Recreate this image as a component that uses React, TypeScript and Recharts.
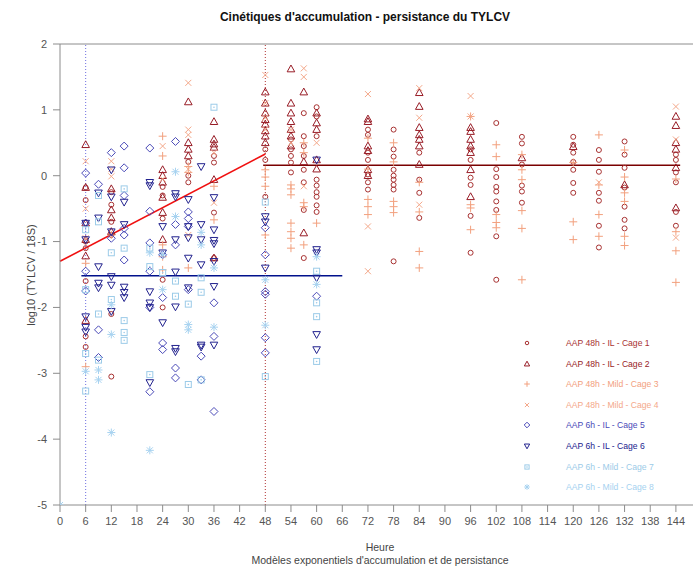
import React from 'react';
import { ScatterChart, Scatter, XAxis, YAxis, ReferenceLine } from 'recharts';

type Pt = [number, number];

// hours / log10 values
const cage1: Pt[] = [
  [6, -0.18], [6, -0.37], [6, -1.0], [6, -1.1], [6, -1.6], [6, -2.44], [6, -2.6],
  [12, -0.25], [12, -0.44], [12, -0.7], [12, -0.9], [12, -2.1], [12, -3.05],
  [24, -0.17], [24, -0.3], [24, -0.65], [24, -1.58], [24, -2.0],
  [30, 0.21], [30, 0.0], [30, -0.1],
  [36, 0.2], [36, 0.3], [36, -0.56], [36, -1.25],
  [48, 0.4], [48, 0.24], [48, -0.32],
  [54, 0.55], [54, 0.4], [54, 0.3], [54, 0.2], [54, 0.05],
  [57, 0.95], [57, 0.6], [57, 0.45], [57, 0.3], [57, 0.09], [57, -0.1], [57, -0.52], [57, -1.25],
  [60, 1.04], [60, 0.9], [60, 0.6], [60, -0.06], [60, -0.15], [60, -0.25], [60, -0.32], [60, -0.45], [60, -0.55],
  [72, 0.7], [72, 0.62], [72, 0.35], [72, 0.24], [72, 0.02], [72, -0.1], [72, -0.21],
  [78, 0.7], [78, 0.4], [78, 0.29], [78, 0.09], [78, 0.0], [78, -0.06], [78, -0.14], [78, -0.21], [78, -1.3],
  [84, 0.35], [84, -0.06], [84, -0.26], [84, -0.64],
  [96, 0.4], [96, 0.24], [96, -0.03], [96, -0.14], [96, -0.61], [96, -1.17],
  [102, 0.8], [102, 0.1], [102, -0.02], [102, -0.17], [102, -0.24], [102, -0.39], [102, -0.52], [102, -0.92], [102, -1.58],
  [108, 0.59], [108, 0.49], [108, 0.17], [108, -0.15], [108, -0.24], [108, -0.41],
  [120, 0.59], [120, 0.47], [120, 0.35], [120, 0.21], [120, 0.09], [120, -0.11], [120, -0.26],
  [126, 0.39], [126, 0.24], [126, 0.06], [126, -0.26], [126, -0.38], [126, -0.76], [126, -1.09],
  [132, 0.52], [132, 0.32], [132, 0.12], [132, -0.18], [132, -0.47], [132, -0.67], [132, -0.8],
  [144, 0.32], [144, 0.24], [144, 0.05], [144, -0.1], [144, -0.55], [144, -0.76],
];
const cage2: Pt[] = [
  [6, 0.47], [6, -0.18], [6, -0.72], [6, -0.97], [6, -1.22], [6, -2.2],
  [12, -0.2], [12, -0.52], [12, -0.64], [12, -0.85],
  [24, 0.09], [24, 0.0], [24, -0.1], [24, -0.33], [24, -0.56], [24, -0.97],
  [30, 1.12], [30, 0.5], [30, 0.4], [30, 0.3],
  [36, 0.82], [36, 0.55], [36, 0.48], [36, 0.43], [36, -0.06], [36, -1.25],
  [48, 1.27], [48, 1.1], [48, 0.95], [48, 0.85], [48, 0.78], [48, 0.68], [48, 0.6], [48, 0.5],
  [54, 1.62], [54, 1.1], [54, 0.95], [54, 0.82], [54, 0.7], [54, 0.6], [54, 0.45],
  [57, 1.27], [57, 0.21], [57, -0.87],
  [60, 0.95], [60, 0.8], [60, 0.7], [60, 0.24], [60, 0.1],
  [72, 0.86], [72, 0.82], [72, 0.45], [72, 0.38], [72, 0.09], [72, 0.0],
  [84, 1.26], [84, 1.05], [84, 0.73], [84, 0.62], [84, 0.55], [84, 0.45], [84, 0.17],
  [96, 0.73], [96, 0.67], [96, 0.55], [96, 0.45], [96, 0.35], [96, 0.09], [96, -0.32],
  [108, 0.27], [120, 0.44], [132, -0.14],
  [144, 0.9], [144, 0.76], [144, 0.5], [144, 0.4], [144, 0.12], [144, -0.49],
];
const cage3: Pt[] = [
  [6, -1.33], [6, -2.9], [12, -0.9],
  [24, 0.6], [24, 0.3], [24, -1.05], [24, -1.23], [24, -1.43],
  [30, 0.14], [30, 0.05], [30, -1.4],
  [36, -0.16], [36, -0.67],
  [48, 0.09], [48, -0.02], [48, -0.16], [48, -0.9],
  [54, -0.14], [54, -0.2], [54, -0.29], [54, -0.72], [54, -0.85], [54, -0.95], [54, -1.1],
  [57, 0.5], [57, 0.35], [57, -0.41], [57, -0.47], [57, -1.05],
  [60, -0.72],
  [72, 0.57], [72, 0.1], [72, -0.36], [72, -0.47], [72, -0.59],
  [78, 0.5], [78, 0.21], [78, -0.39], [78, -0.47], [78, -0.56],
  [84, -0.1], [84, -0.55], [84, -1.15], [84, -1.4],
  [96, 0.9], [96, -0.44], [96, -0.49], [96, -0.82],
  [102, 0.47], [102, 0.29], [102, -0.59], [102, -0.71], [102, -0.79],
  [108, 0.32], [108, 0.09], [108, -0.06], [108, -0.53], [108, -0.8], [108, -1.58],
  [120, 0.2], [120, -0.7], [120, -0.97],
  [126, 0.62], [126, -0.14], [126, -0.59], [126, -0.92],
  [132, 0.39], [132, -0.02], [132, -0.26], [132, -0.39], [132, -0.92], [132, -1.06],
  [144, -0.05], [144, -0.85], [144, -1.14], [144, -1.62],
];
const cage4: Pt[] = [
  [6, 0.22], [6, -0.5], [6, -0.95],
  [12, 0.22], [12, 0.1], [12, -0.01],
  [24, 0.45], [24, -0.05],
  [30, 1.41], [30, 0.7], [30, 0.62], [30, 0.1], [30, -0.9],
  [36, 0.35], [36, -0.41],
  [48, 1.53], [48, 1.1], [48, 0.88], [48, 0.7],
  [54, 0.7], [54, 0.5],
  [57, 1.63], [57, 1.5], [57, -0.16],
  [60, 0.5],
  [72, 1.24], [72, -0.77], [72, -1.45],
  [84, 1.33], [84, 0.88], [84, -0.44],
  [96, 1.21], [96, 0.9],
  [126, -0.1],
  [144, 1.05], [144, 0.55], [144, -0.94],
];
const cage5: Pt[] = [
  [6, 0.04], [6, -0.72], [6, -1.45], [6, -1.75],
  [9, -0.13], [9, -2.34], [9, -2.76],
  [12, 0.35], [12, -0.95],
  [15, 0.45], [15, 0.12], [15, -0.3], [15, -0.8], [15, -0.9], [15, -1.28],
  [21, 0.42], [21, -0.54], [21, -1.02], [21, -1.45], [21, -2.0], [21, -3.28],
  [24, -1.2], [24, -1.85], [24, -2.54], [24, -2.64],
  [27, 0.52], [27, -0.74], [27, -1.05], [27, -2.92], [27, -3.07],
  [30, -0.55], [30, -0.65], [30, -0.77], [30, -1.73],
  [33, -2.74], [33, -3.1],
  [36, -1.93], [36, -2.44], [36, -3.58],
  [48, -0.79], [48, -1.2], [48, -1.76], [48, -1.8], [48, -2.46], [48, -2.69],
  [60, -1.83],
];
const cage6: Pt[] = [
  [6, -0.72], [6, -0.97], [6, -2.14], [6, -2.3], [6, -2.37],
  [9, -0.26], [9, -0.64], [9, -1.38], [9, -1.63], [9, -1.7],
  [12, 0.09], [12, -0.32], [12, -0.85], [12, -1.53], [12, -1.66], [12, -2.06],
  [15, -0.4], [15, -0.74], [15, -1.69], [15, -1.77], [15, -1.85],
  [21, -0.1], [21, -0.15], [21, -1.76], [21, -1.93], [21, -2.0], [21, -3.14],
  [24, -0.77], [24, -1.17], [24, -2.23],
  [27, -0.27], [27, -0.32], [27, -0.97], [27, -1.46], [27, -1.99], [27, -2.62], [27, -2.67],
  [30, -0.36], [30, -0.77], [30, -0.94], [30, -1.25], [30, -1.7],
  [33, 0.14], [33, -0.74], [33, -0.97], [33, -1.35], [33, -2.57], [33, -2.6],
  [36, -0.33], [36, -0.82], [36, -0.98], [36, -1.03], [36, -1.3], [36, -1.68], [36, -2.57],
  [48, -0.62], [48, -0.7], [48, -1.4],
  [60, 0.24], [60, -1.12], [60, -1.17], [60, -1.55], [60, -2.41], [60, -2.64],
];
const cage7: Pt[] = [
  [6, -0.82], [6, -1.73], [6, -2.7], [6, -3.27],
  [9, -0.3], [9, -0.7], [9, -2.1], [9, -2.8],
  [12, -1.17], [12, -1.88],
  [15, -0.2], [15, -1.1], [15, -2.2], [15, -2.38], [15, -2.5],
  [21, -1.1], [21, -1.38], [21, -3.02],
  [24, -1.47], [27, -1.6], [27, -1.83],
  [30, -1.95], [30, -3.17],
  [33, -1.55], [33, -1.77], [33, -3.1],
  [36, 1.04],
  [48, -0.4], [48, -3.05],
  [60, -1.45], [60, -1.93], [60, -2.14], [60, -2.82],
];
const cage8: Pt[] = [
  [0, -5],
  [6, -2.97], [9, -2.95], [9, -3.1],
  [12, -1.96], [12, -2.41], [12, -3.9],
  [21, -1.17], [21, -4.17],
  [24, -1.2], [24, -1.73],
  [27, 0.06], [27, -0.62],
  [30, -2.26], [30, -2.34],
  [33, -0.86], [33, -1.05],
  [36, -1.4], [36, -2.3],
  [48, -1.58], [48, -2.27],
  [60, -1.23], [60, -1.65],
];

// fitted models
const accumulationLine = [{ x: 0, y: -1.3 }, { x: 48, y: 0.33 }];
const persistence48 = [{ x: 47.5, y: 0.16 }, { x: 145, y: 0.16 }];
const persistence6 = [{ x: 5, y: -1.52 }, { x: 66, y: -1.52 }];

const xTicks = [0, 6, 12, 18, 24, 30, 36, 42, 48, 54, 60, 66, 72, 78, 84, 90, 96, 102, 108, 114, 120, 126, 132, 138, 144];
const yTicks = [-5, -4, -3, -2, -1, 0, 1, 2];

const FONT = '"Liberation Sans", Arial, sans-serif';

type Kind = 'circle' | 'tri' | 'plus' | 'cross' | 'diamond' | 'triDown' | 'square' | 'star';

function marker(kind: Kind, color: string, cx: number, cy: number, s = 1) {
  const p = { fill: 'none', stroke: color, strokeWidth: 1 };
  const a = 4 * s, b = 3.8 * s, c = 2.8 * s, d = 3 * s;
  switch (kind) {
    case 'circle':
      return <circle cx={cx} cy={cy} r={2.5 * s} {...p} />;
    case 'tri':
      return <polygon points={`${cx},${cy - a} ${cx - b},${cy + c} ${cx + b},${cy + c}`} {...p} />;
    case 'triDown':
      return <polygon points={`${cx},${cy + a} ${cx - b},${cy - c} ${cx + b},${cy - c}`} {...p} />;
    case 'plus':
      return <path d={`M${cx - a},${cy}H${cx + a}M${cx},${cy - a}V${cy + a}`} {...p} />;
    case 'cross':
      return <path d={`M${cx - d},${cy - d}L${cx + d},${cy + d}M${cx - d},${cy + d}L${cx + d},${cy - d}`} {...p} />;
    case 'diamond':
      return <polygon points={`${cx},${cy - a} ${cx + a},${cy} ${cx},${cy + a} ${cx - a},${cy}`} {...p} />;
    case 'square':
      return (
        <g>
          <rect x={cx - d} y={cy - d} width={2 * d} height={2 * d} {...p} />
          <circle cx={cx} cy={cy} r={0.8} fill={color} />
        </g>
      );
    case 'star':
      return (
        <path
          d={`M${cx - a},${cy}H${cx + a}M${cx},${cy - a}V${cy + a}M${cx - d},${cy - d}L${cx + d},${cy + d}M${cx - d},${cy + d}L${cx + d},${cy - d}`}
          {...p}
        />
      );
  }
}

const series = [
  { name: 'AAP 48h - IL - Cage 1', data: cage1, kind: 'circle' as Kind, color: '#a83232' },
  { name: 'AAP 48h - IL - Cage 2', data: cage2, kind: 'tri' as Kind, color: '#981c26' },
  { name: 'AAP 48h - Mild - Cage 3', data: cage3, kind: 'plus' as Kind, color: '#f2a07e' },
  { name: 'AAP 48h - Mild - Cage 4', data: cage4, kind: 'cross' as Kind, color: '#f4a88a' },
  { name: 'AAP 6h - IL - Cage 5', data: cage5, kind: 'diamond' as Kind, color: '#4a4ab8' },
  { name: 'AAP 6h - IL - Cage 6', data: cage6, kind: 'triDown' as Kind, color: '#22228e' },
  { name: 'AAP 6h - Mild - Cage 7', data: cage7, kind: 'square' as Kind, color: '#9ccbe8' },
  { name: 'AAP 6h - Mild - Cage 8', data: cage8, kind: 'star' as Kind, color: '#a6d2f0' },
];

export default function App() {
  const axisColor = '#8c8c8c';
  const tickStyle = { fontSize: 11, fill: '#555', fontFamily: FONT };
  return (
    <div style={{ position: 'absolute', left: 0, top: 0, width: 693, height: 567, background: '#fff', fontFamily: FONT }}>
      <ScatterChart width={693} height={567} margin={{ top: 44, right: 0, bottom: 32, left: 0 }}>
        <XAxis
          type="number"
          dataKey="x"
          domain={[0, 148]}
          ticks={xTicks}
          interval={0}
          allowDataOverflow
          stroke={axisColor}
          tick={{ ...tickStyle, dy: 3 }}
          tickSize={7}
          height={30}
        />
        <YAxis
          type="number"
          dataKey="y"
          domain={[-5, 2]}
          ticks={yTicks}
          allowDataOverflow
          stroke={axisColor}
          tick={{ ...tickStyle, dx: -4 }}
          tickSize={7}
          width={60}
        />
        <ReferenceLine y={2} stroke={axisColor} strokeWidth={1} />
        <ReferenceLine x={6} stroke="#7070e0" strokeDasharray="1 2" strokeWidth={1} />
        <ReferenceLine x={48} stroke="#b03030" strokeDasharray="1 2" strokeWidth={1} />
        {series.map((s) => (
          <Scatter
            key={s.name}
            name={s.name}
            data={s.data.map(([x, y]) => ({ x, y }))}
            isAnimationActive={false}
            shape={(props: any) => marker(s.kind, s.color, props.cx, props.cy)}
          />
        ))}
        <ReferenceLine segment={accumulationLine} stroke="#f01010" strokeWidth={1.6} />
        <ReferenceLine segment={persistence48} stroke="#7a0000" strokeWidth={1.6} />
        <ReferenceLine segment={persistence6} stroke="#00108c" strokeWidth={1.6} />
      </ScatterChart>

      <div style={{ position: 'absolute', left: 0, width: 730, top: 10, textAlign: 'center', fontSize: 12, fontWeight: 'bold', color: '#111' }}>
        Cinétiques d'accumulation - persistance du TYLCV
      </div>
      <div
        style={{
          position: 'absolute', left: 31, top: 275, fontSize: 11, color: '#444', whiteSpace: 'nowrap',
          transform: 'translate(-50%, -50%) rotate(-90deg)',
        }}
      >
        log10 (TYLCV / 18S)
      </div>
      <div style={{ position: 'absolute', left: 60, width: 640, top: 541, textAlign: 'center', fontSize: 10.5, color: '#444', lineHeight: '13px' }}>
        Heure
        <br />
        Modèles exponentiels d'accumulation et de persistance
      </div>

      {series.map((s, i) => (
        <div key={s.name} style={{ position: 'absolute', left: 520, top: 336 + i * 20.6, height: 14, display: 'flex', alignItems: 'center' }}>
          <svg width={14} height={14}>{marker(s.kind, s.color, 7, 7, 0.7)}</svg>
          <span style={{ marginLeft: 32, fontSize: 8.6, color: s.color, whiteSpace: 'nowrap' }}>{s.name}</span>
        </div>
      ))}
    </div>
  );
}
